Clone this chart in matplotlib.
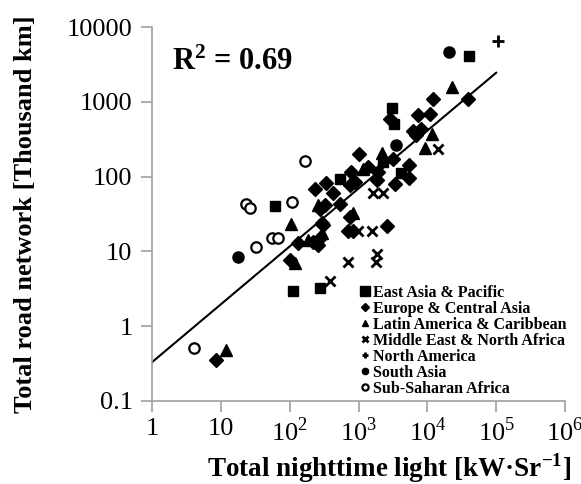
import matplotlib
matplotlib.use("Agg")
import matplotlib.pyplot as plt
import numpy as np

plt.rcParams['font.family'] = ['Liberation Serif', 'DejaVu Serif']
plt.rcParams['mathtext.fontset'] = 'custom'
plt.rcParams['mathtext.rm'] = 'Liberation Serif'
plt.rcParams['mathtext.bf'] = 'Liberation Serif:bold'

# Data: total nighttime light (kW/Sr) vs total road network (thousand km)
east_asia_x = [40500, 3080, 3290, 2280, 4160, 540, 61, 112, 277]
east_asia_y = [4100, 825, 504, 156, 111, 93, 40, 3.0, 3.2]

europe_x = [12100, 39200, 2880, 7350, 11000, 6220, 8130, 6870, 1020, 3180,
            5440, 780, 1380, 1930, 5440, 755, 893, 1860, 3400, 427,
            234, 338, 540, 277, 327, 296, 755, 706, 835, 2600,
            219, 277, 259, 132, 101, 8.5, 306]
europe_y = [1090, 1090, 588, 665, 686, 406, 431, 359, 200, 171,
            143, 115, 134, 115, 95, 77, 84, 90, 79, 60,
            68, 82, 43, 37, 42, 24, 29, 19, 19, 22,
            13.3, 15, 12.1, 12.9, 7.6, 0.35, 22.4]

latam_x = [22900, 11700, 9290, 2200, 1170, 835, 105, 259, 185, 296, 120, 11.9]
latam_y = [1570, 371, 240, 206, 126, 32.5, 23, 42, 14.1, 17.5, 7.0, 0.48]

mena_x = [14400, 1630, 2280, 986, 1580, 706, 1860, 1800, 387]
mena_y = [233, 60, 60, 19, 18.7, 7.2, 9.2, 7.2, 4.0]

north_am_x = [107000]
north_am_y = [6500]

south_asia_x = [20700, 3520, 17.8]
south_asia_y = [4640, 264, 8.4]

ssa_x = [167, 23.2, 26.6, 108, 55.5, 68, 32.5, 4.1]
ssa_y = [161, 43, 38, 46, 15, 15, 11.4, 0.51]

# regression line: y = a * x^b
fit_a = 0.33
fit_b = 0.774
fit_x_range = [1, 1e5]
r2_text = r'$\mathbf{R^2}$ = 0.69'

x_ticks = [1, 10, 1e2, 1e3, 1e4, 1e5, 1e6]
x_tick_labels = ['1', '10', '10$^2$', '10$^3$', '10$^4$', '10$^5$', '10$^6$']
y_ticks = [0.1, 1, 10, 100, 1000, 10000]
y_tick_labels = ['0.1', '1', '10', '100', '1000', '10000']

fig = plt.figure(figsize=(5.81, 4.84), dpi=100)
ax = fig.add_axes([0.2616, 0.1715, 0.7109, 0.7727])

ax.plot(east_asia_x, east_asia_y, 's', color='black', ms=7, ls='none',
        label='East Asia & Pacific')
ax.plot(europe_x, europe_y, 'D', color='black', ms=7, ls='none',
        label='Europe & Central Asia')
ax.plot(latam_x, latam_y, '^', color='black', ms=8, ls='none',
        label='Latin America & Caribbean')
ax.plot(mena_x, mena_y, 'x', color='black', ms=7, mew=2, ls='none',
        label='Middle East & North Africa')
ax.plot(north_am_x, north_am_y, '+', color='black', ms=9, mew=2, ls='none',
        label='North America')
ax.plot(south_asia_x, south_asia_y, 'o', color='black', ms=8, ls='none',
        label='South Asia')
ax.plot(ssa_x, ssa_y, 'o', mfc='white', mec='black', mew=1.6, ms=7.5,
        ls='none', label='Sub-Saharan Africa')

xf = np.logspace(np.log10(fit_x_range[0]), np.log10(fit_x_range[1]), 50)
ax.plot(xf, fit_a * xf ** fit_b, color='black', lw=1.5)

ax.set_xscale('log')
ax.set_yscale('log')
ax.set_xlim(1, 1e6)
ax.set_ylim(0.1, 1e4)
ax.set_xticks(x_ticks)
ax.set_xticklabels(x_tick_labels)
ax.set_yticks(y_ticks)
ax.set_yticklabels(y_tick_labels)
ax.minorticks_off()
ax.tick_params(axis='both', labelsize=19, color='#a0a0a0', length=8,
               width=1.2)
ax.tick_params(axis='x', pad=4)
ax.tick_params(axis='y', pad=6)

for side in ['top', 'right']:
    ax.spines[side].set_visible(False)
for side in ['left', 'bottom']:
    ax.spines[side].set_color('#a0a0a0')
    ax.spines[side].set_linewidth(1.2)

ax.set_xlabel(r'Total nighttime light [kW·Sr$^{\mathbf{-1}}$]',
              fontsize=19.5, fontweight='bold', va='baseline')
ax.xaxis.set_label_coords(0.574, -0.203)
ax.set_ylabel('Total road network [Thousand km]', fontsize=19,
              fontweight='bold')
ax.yaxis.set_label_coords(-0.278, 0.5)

ax.text(0.048, 0.885, r2_text, transform=ax.transAxes, fontsize=22,
        fontweight='bold', va='baseline', ha='left')

leg = ax.legend(loc='upper left', bbox_to_anchor=(0.505, 0.31), frameon=False,
                prop={'size': 11.5, 'weight': 'bold'},
                handlelength=0.5, handletextpad=0.25, labelspacing=0.0,
                borderpad=0, borderaxespad=0)
legend_marker_sizes = [6.5, 4.5, 5, 4.5, 5, 4.5, 4.5]
for h, s in zip(leg.legend_handles, legend_marker_sizes):
    h.set_markersize(s)

fig.savefig('out.png', dpi=100)
